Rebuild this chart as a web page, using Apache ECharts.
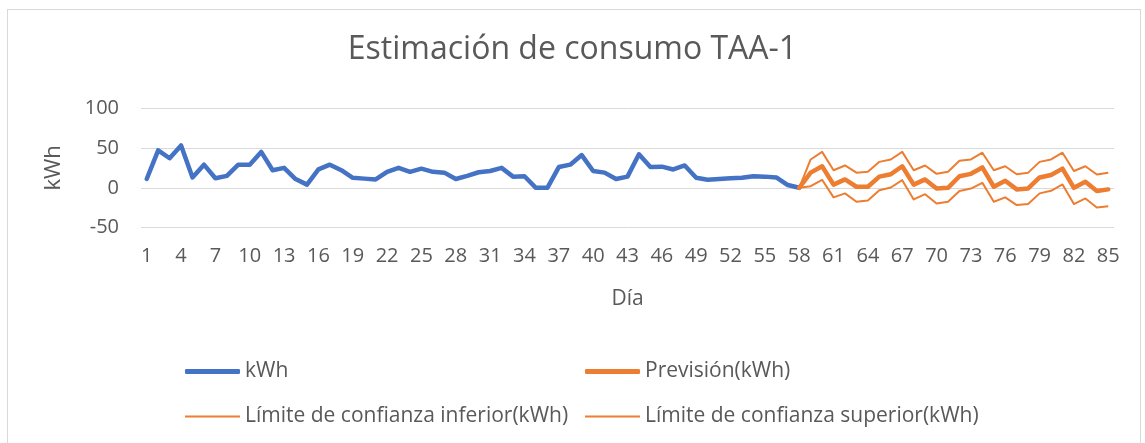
<!DOCTYPE html>
<html>
<head>
<meta charset="utf-8">
<script src="https://cdn.jsdelivr.net/npm/echarts@6/dist/echarts.min.js"></script>
<style>
  html, body { margin: 0; padding: 0; background: #fff; }
  #frame { position: absolute; left: 7px; top: 9px; width: 1134px; height: 450px; border: 1px solid #d9d9d9; box-sizing: border-box; }
  #chart { position: absolute; left: 0; top: 0; width: 1145px; height: 443px; }
</style>
</head>
<body>
<div id="frame"></div>
<div id="chart"></div>
<script>
const days = [1,2,3,4,5,6,7,8,9,10,11,12,13,14,15,16,17,18,19,20,21,22,23,24,25,26,27,28,29,30,
  31,32,33,34,35,36,37,38,39,40,41,42,43,44,45,46,47,48,49,50,51,52,53,54,55,56,57,58,59,60,
  61,62,63,64,65,66,67,68,69,70,71,72,73,74,75,76,77,78,79,80,81,82,83,84,85];

// Actual consumption, days 1..58
const kwh = [11,47,37,53,13,29,12,15,29,29,45,22,25,11,4,23,29,22,12.5,11.5,
  10.5,20,25,20,24,20,19,11,15,19.5,21,25,14,14.5,0,0,26,29,41,21,
  19,11,14,42,26,26.5,23,28,12.5,10,11,12,12.5,14.5,14,13,3.5,0];

// Forecast and bounds, days 58..85
const forecastStart = 58;
const prevision = [0,19,27,4,10.5,1.3,1.3,14,17,27,4,10.5,-1,0,14.5,17.5,25.5,1.3,8.8,-2,-0.8,13,16,24,0,7.5,-4,-2];
const limInferior = [0,2,10,-12,-7,-17.5,-16,-3,0.4,9.6,-14.6,-8,-19.6,-17.5,-4,-1,6.3,-17.5,-12,-21.7,-20.4,-7,-3.8,4.2,-20.4,-13.3,-24.6,-23];
const limSuperior = [0,35.5,45,22,28,19,20,32.5,35.5,45,22,28,17.5,20,34,35.5,44,22,27,17,19,32.5,35.5,44,21,27,16.7,19];

const yTicks = [-50, 0, 50, 100];

function padFrom(start, arr) {
  const out = new Array(days.length).fill(null);
  arr.forEach((v, i) => { out[start - 1 + i] = v; });
  return out;
}

const FONT = '"Open Sans", "Noto Sans", sans-serif';
const BLUE = '#4472C4';
const ORANGE = '#ED7D31';
const TXT = '#595959';

const chart = echarts.init(document.getElementById('chart'), null, { renderer: 'canvas' });

function legendAt(name, left, top, thick) {
  return {
    show: true,
    data: [{ name: name, icon: thick ? 'roundRect' : 'rect' }],
    left: left, top: top, orient: 'horizontal', padding: 0,
    itemWidth: 55, itemHeight: thick ? 5 : 2, itemGap: 0,
    textStyle: { color: TXT, fontSize: 21, fontFamily: FONT },
    selectedMode: false
  };
}

chart.setOption({
  animation: false,
  backgroundColor: 'transparent',
  title: {
    text: 'Estimación de consumo TAA-1',
    left: 'center', top: 29,
    textStyle: { color: TXT, fontSize: 32, fontWeight: 'normal', fontFamily: FONT }
  },
  legend: [
    legendAt('kWh', 185, 361, true),
    legendAt('Previsión(kWh)', 585, 361, true),
    legendAt('Límite de confianza inferior(kWh)', 185, 406, false),
    legendAt('Límite de confianza superior(kWh)', 585, 406, false)
  ],
  grid: { left: 141, right: 31, top: 108, bottom: 215.3, containLabel: false },
  xAxis: {
    type: 'category',
    data: days,
    boundaryGap: true,
    name: 'Día',
    nameLocation: 'middle',
    nameGap: 61,
    nameTextStyle: { color: TXT, fontSize: 21, fontFamily: FONT },
    axisLine: { show: false },
    axisTick: { show: false },
    axisLabel: { interval: 2, color: TXT, fontSize: 20, fontFamily: FONT, margin: 19 },
    splitLine: { show: false }
  },
  yAxis: {
    type: 'value',
    min: yTicks[0], max: yTicks[yTicks.length - 1], interval: 50,
    name: 'kWh',
    nameLocation: 'middle',
    nameGap: 76,
    nameRotate: 90,
    nameTextStyle: { color: TXT, fontSize: 22, fontFamily: FONT },
    axisLine: { show: false },
    axisTick: { show: false },
    axisLabel: { color: TXT, fontSize: 20, fontFamily: FONT, margin: 22 },
    splitLine: { lineStyle: { color: '#d9d9d9', width: 1 } }
  },
  series: [
    {
      name: 'kWh', type: 'line', data: padFrom(1, kwh),
      symbol: 'none', connectNulls: false,
      lineStyle: { color: BLUE, width: 4.5, cap: 'round', join: 'round' },
      itemStyle: { color: BLUE }, z: 3
    },
    {
      name: 'Previsión(kWh)', type: 'line', data: padFrom(forecastStart, prevision),
      symbol: 'none',
      lineStyle: { color: ORANGE, width: 4.5, cap: 'round', join: 'round' },
      itemStyle: { color: ORANGE }, z: 4
    },
    {
      name: 'Límite de confianza inferior(kWh)', type: 'line', data: padFrom(forecastStart, limInferior),
      symbol: 'none',
      lineStyle: { color: ORANGE, width: 2, join: 'round' },
      itemStyle: { color: ORANGE }, z: 2
    },
    {
      name: 'Límite de confianza superior(kWh)', type: 'line', data: padFrom(forecastStart, limSuperior),
      symbol: 'none',
      lineStyle: { color: ORANGE, width: 2, join: 'round' },
      itemStyle: { color: ORANGE }, z: 2
    }
  ]
});
</script>
</body>
</html>
